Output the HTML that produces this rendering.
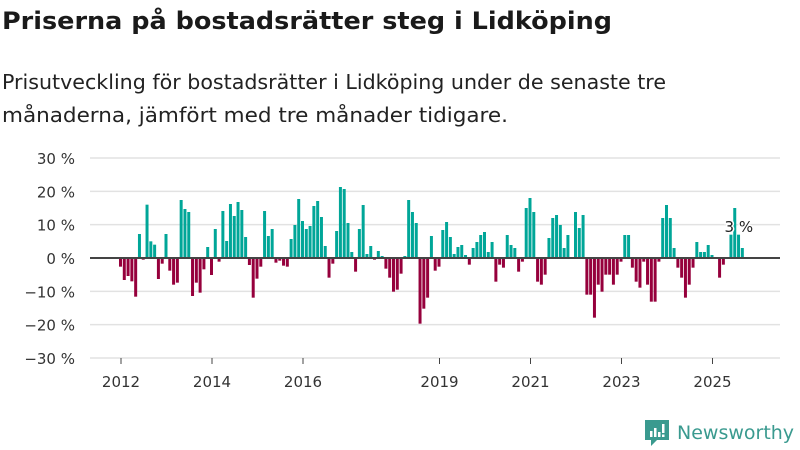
<!DOCTYPE html>
<html><head><meta charset="utf-8">
<style>
body{margin:0;background:#fff;font-family:"DejaVu Sans","Liberation Sans",sans-serif;}
#wrap{position:relative;width:800px;height:450px;overflow:hidden;}
</style></head><body>
<div id="wrap">
<svg id="chart" width="800" height="450" style="position:absolute;left:0;top:0">
<text x="2" y="29" font-size="24" font-weight="bold" fill="#1a1a1a" textLength="610" lengthAdjust="spacingAndGlyphs" font-family="DejaVu Sans, sans-serif">Priserna på bostadsrätter steg i Lidköping</text>
<text x="2" y="89" font-size="20" fill="#222" textLength="664" lengthAdjust="spacingAndGlyphs" font-family="DejaVu Sans, sans-serif">Prisutveckling för bostadsrätter i Lidköping under de senaste tre</text>
<text x="2" y="122" font-size="20" fill="#222" textLength="506" lengthAdjust="spacingAndGlyphs" font-family="DejaVu Sans, sans-serif">månaderna, jämfört med tre månader tidigare.</text>
</svg>
<div style="position:absolute;left:645px;top:420px;display:flex;align-items:center;">
<svg width="24" height="26" viewBox="0 0 24 26"><path d="M0 0H24V20H12L6 26V20H0Z" fill="#3a9a8f"/><rect x="5" y="11" width="2.5" height="6" fill="#fff"/><rect x="9" y="8" width="2.5" height="9" fill="#fff"/><rect x="13" y="12" width="2.5" height="5" fill="#fff"/><rect x="17" y="4" width="2.5" height="9" fill="#fff"/><rect x="17" y="14.5" width="2.5" height="2.5" fill="#fff"/></svg>
<span style="margin-left:8px;font-size:19px;color:#3a9a8f;font-family:'DejaVu Sans',sans-serif">Newsworthy</span></div>
</div>
<script>
const yTicks=[30,20,10,0,-10,-20,-30];
const yTickLabels=["30 %","20 %","10 %","0 %","−10 %","−20 %","−30 %"];
const xTickYears=[2012,2014,2016,2019,2021,2023,2025];
const startYear=2012;
const values=[-2.6,-6.6,-5.4,-7,-11.6,7.2,-0.5,16,5,4,-6.3,-1.7,7.2,-3.8,-8,-7.4,17.4,14.7,13.8,-11.4,-7.4,-10.4,-3.4,3.3,-5.1,8.7,-1.1,14.1,5.1,16.2,12.6,16.8,14.4,6.3,-2.1,-11.9,-6.2,-2.6,14.1,6.6,8.7,-1.4,-0.8,-2.3,-2.6,5.7,9.9,17.7,11.1,8.7,9.6,15.6,17.1,12.3,3.6,-5.9,-1.7,8.1,21.3,20.7,10.5,1.8,-4.1,8.7,15.9,1.2,3.6,-0.5,2.1,0.6,-3.2,-5.9,-10.1,-9.5,-4.7,0.6,17.4,13.8,10.5,-19.7,-15.2,-11.9,6.6,-3.8,-2.6,8.4,10.8,6.3,1.2,3.3,3.9,0.9,-2,3,4.8,6.9,7.8,1.8,4.8,-7.1,-2,-2.9,6.9,3.9,3,-4.1,-1.1,15,18,13.8,-7.1,-8,-5,6,12,12.9,9.9,3,6.9,0,13.8,9,12.9,-11,-11,-17.9,-8,-10.1,-5,-5,-8,-5,-1.1,6.9,6.9,-2.9,-7.1,-8.9,-1.1,-8,-13.1,-13.1,-1.1,12,15.9,12,3,-2.9,-5.9,-11.9,-8,-2.9,4.8,1.8,1.8,3.9,0.9,0,-5.9,-2,0,7,15,7,3];
const lastLabel="3 %";
const svg=document.getElementById('chart');
const NS='http://www.w3.org/2000/svg';
const y0=258, pxPer=100/30;
function yScale(v){return y0-v*pxPer;}
const monthW=45.5/12;
function xScale(i){return 119+i*monthW;}
function mk(t,a){const e=document.createElementNS(NS,t);for(const k in a)e.setAttribute(k,a[k]);svg.appendChild(e);return e;}
yTicks.forEach((t,i)=>{
  if(t!==0){const l=mk('line',{x1:90,x2:780,y1:yScale(t),y2:yScale(t),stroke:'#e2e2e2','stroke-width':1.5});
  
  }
  const tx=mk('text',{x:75,y:yScale(t)+6,'text-anchor':'end','font-size':15,fill:'#333','font-family':'DejaVu Sans, sans-serif'});
  tx.textContent=yTickLabels[i];
  
  
});
values.forEach((v,i)=>{
  const x=xScale(i);
  const r=mk('rect',{x:x,y:v>=0?yScale(v):y0,width:monthW-0.8,height:Math.abs(v)*pxPer,fill:v>=0?'#00a698':'#96003c'});
  
  
});
const zl=mk('line',{x1:90,x2:780,y1:y0,y2:y0,stroke:'#444','stroke-width':2});


xTickYears.forEach(yr=>{
  const x=xScale((yr-startYear)*12)+2;
  const tk=mk('line',{x1:x,x2:x,y1:358,y2:364,stroke:'#444','stroke-width':1});
  
  
  const tx=mk('text',{x:x,y:387,'text-anchor':'middle','font-size':15,fill:'#333','font-family':'DejaVu Sans, sans-serif'});
  tx.textContent=yr;
  
  
});
const li=values.length-1;
const lbl=mk('text',{x:xScale(li)-2,y:yScale(values[li])-16,'text-anchor':'middle','font-size':15,fill:'#222',stroke:'#fff','stroke-width':3,'paint-order':'stroke','font-family':'DejaVu Sans, sans-serif'});
lbl.textContent=lastLabel;


</script>
</body></html>
